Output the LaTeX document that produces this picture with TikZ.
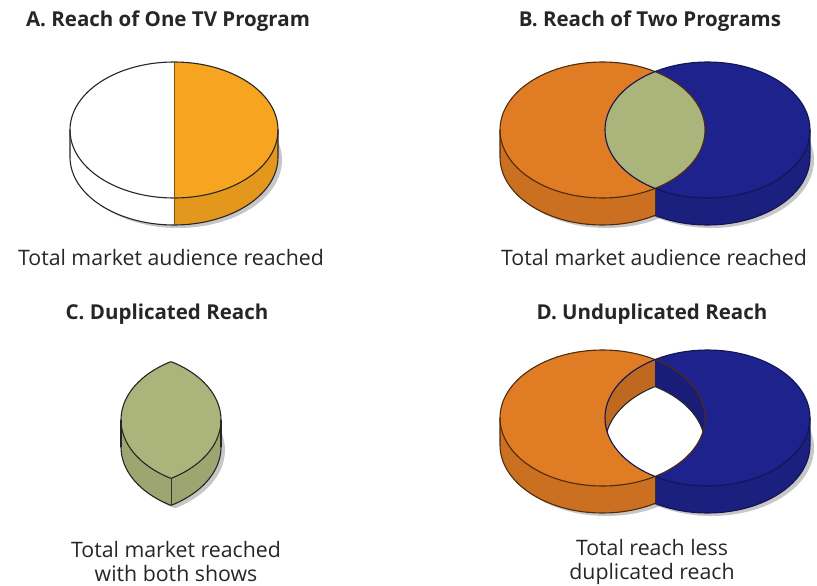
\documentclass[tikz,border=0pt]{standalone}
\usepackage{fontspec}
\setmainfont{Open Sans}

\definecolor{pieorange}{RGB}{247,165,32}
\definecolor{vennorange}{RGB}{224,124,36}
\definecolor{vennblue}{RGB}{30,34,140}
\definecolor{lensgreen}{RGB}{171,180,122}

\begin{document}
\begin{tikzpicture}[x=1pt, y=1pt]
    \useasboundingbox (0,0) rectangle (817,-586);

    % centres of the discs (pixel grid, y pointing down)
    \coordinate (A)  at (174,-130);
    \coordinate (B1) at (602.5,-130);
    \coordinate (B2) at (707.5,-130);
    \coordinate (C1) at (118.5,-420);
    \coordinate (C2) at (223.5,-420);
    \coordinate (D1) at (602.5,-418);
    \coordinate (D2) at (707.5,-418);

    % sizes
    \def\rx{102.5} \def\ry{68} \def\thk{27}

    \tikzset{
        outline/.style={draw=black!85, line width=1.1pt},
        seam/.style={draw=black!80, line width=1pt},
        shade/.style={fill=black, opacity=0.22},
        title/.style={font=\bfseries\fontsize{20.5}{24}\selectfont, text=black!85},
        caption/.style={font=\fontsize{21.3}{24}\selectfont, text=black!85, align=center, inner sep=0.5pt}
    }

    % ---------------- A. one programme ----------------
    \fill[shade] (A) ++(4,-\thk-3) ellipse[x radius=104, y radius=\ry];
    \fill[white] (A) ++(0,-\thk) ellipse[x radius=104, y radius=\ry];
    \fill[white] (A) ++(-104,0) rectangle ++(208,-\thk);
    \fill[white] (A) ellipse[x radius=104, y radius=\ry];
    \begin{scope}
        \clip (A) ++(0,80) rectangle ++(120,-200);
        \fill[pieorange!92!black] (A) ++(0,-\thk) ellipse[x radius=104, y radius=\ry];
        \fill[pieorange!92!black] (A) ++(-104,0) rectangle ++(208,-\thk);
        \fill[pieorange] (A) ellipse[x radius=104, y radius=\ry];
    \end{scope}
    \draw[outline] (A) ellipse[x radius=104, y radius=\ry];
    \draw[outline] (A) ++(-104,0) -- ++(0,-\thk)
        arc[start angle=180, end angle=360, x radius=104, y radius=\ry] -- ++(0,\thk);
    \draw[seam, draw=pieorange!50!black] (A) ++(0,\ry) -- ++(0,-2*\ry-\thk);

    % ---------------- B. two programmes ----------------
    \fill[shade] (B1) ++(4,-\thk-3) ellipse[x radius=\rx, y radius=\ry];
    \fill[shade] (B2) ++(4,-\thk-3) ellipse[x radius=\rx, y radius=\ry];
    \begin{scope}
        \clip (0,0) rectangle (655,-300);
        \fill[vennorange!90!black] (B1) ++(0,-\thk) ellipse[x radius=\rx, y radius=\ry];
        \fill[vennorange!90!black] (B1) ++(-\rx,0) rectangle ++(2*\rx,-\thk);
    \end{scope}
    \begin{scope}
        \clip (655,0) rectangle (817,-300);
        \fill[vennblue!90!black] (B2) ++(0,-\thk) ellipse[x radius=\rx, y radius=\ry];
        \fill[vennblue!90!black] (B2) ++(-\rx,0) rectangle ++(2*\rx,-\thk);
    \end{scope}
    \fill[vennorange] (B1) ellipse[x radius=\rx, y radius=\ry];
    \fill[vennblue] (B2) ellipse[x radius=\rx, y radius=\ry];
    \begin{scope}
        \clip (B1) ellipse[x radius=\rx, y radius=\ry];
        \fill[lensgreen] (B2) ellipse[x radius=\rx, y radius=\ry];
    \end{scope}
    \draw[outline, draw=vennorange!35!black] (B1) ellipse[x radius=\rx, y radius=\ry];
    \draw[outline, draw=vennblue!60!black] (B2) ellipse[x radius=\rx, y radius=\ry];
    \begin{scope}
        \clip (0,0) rectangle (655,-300);
        \draw[outline, draw=vennorange!35!black] (B1) ++(-\rx,0) -- ++(0,-\thk)
            arc[start angle=180, end angle=360, x radius=\rx, y radius=\ry];
    \end{scope}
    \begin{scope}
        \clip (655,0) rectangle (817,-300);
        \draw[outline, draw=vennblue!60!black] (B2) ++(\rx,0) -- ++(0,-\thk)
            arc[start angle=0, end angle=-180, x radius=\rx, y radius=\ry];
    \end{scope}
    \draw[seam] (655,-188.4) -- ++(0,-\thk);

    % ---------------- C. duplicated reach ----------------
    \begin{scope}
        \clip (C1) ++(4,-\thk-3) ellipse[x radius=\rx, y radius=\ry];
        \fill[shade] (C2) ++(4,-\thk-3) ellipse[x radius=\rx, y radius=\ry];
    \end{scope}
    \begin{scope}
        \clip (C1) ++(0,-\thk) ellipse[x radius=\rx, y radius=\ry];
        \fill[lensgreen!92!black] (C2) ++(0,-\thk) ellipse[x radius=\rx, y radius=\ry];
    \end{scope}
    \fill[lensgreen!92!black] (121,-420) rectangle (221,-447);
    \begin{scope}
        \clip (C1) ellipse[x radius=\rx, y radius=\ry];
        \fill[lensgreen] (C2) ellipse[x radius=\rx, y radius=\ry];
    \end{scope}
    \begin{scope}
        \clip (C1) ellipse[x radius=\rx, y radius=\ry];
        \draw[outline] (C2) ellipse[x radius=\rx, y radius=\ry];
    \end{scope}
    \begin{scope}
        \clip (C2) ellipse[x radius=\rx, y radius=\ry];
        \draw[outline] (C1) ellipse[x radius=\rx, y radius=\ry];
    \end{scope}
    \begin{scope}
        \clip (0,-447) rectangle (817,-586);
        \begin{scope}
            \clip (C1) ++(0,-\thk) ellipse[x radius=\rx, y radius=\ry];
            \draw[outline] (C2) ++(0,-\thk) ellipse[x radius=\rx, y radius=\ry];
        \end{scope}
        \begin{scope}
            \clip (C2) ++(0,-\thk) ellipse[x radius=\rx, y radius=\ry];
            \draw[outline] (C1) ++(0,-\thk) ellipse[x radius=\rx, y radius=\ry];
        \end{scope}
    \end{scope}
    \draw[outline] (121,-420) -- ++(0,-\thk);
    \draw[outline] (221,-420) -- ++(0,-\thk);
    \draw[seam] (171,-478.4) -- ++(0,-\thk);

    % ---------------- D. unduplicated reach ----------------
    \fill[shade] (D1) ++(4,-\thk-3) ellipse[x radius=\rx, y radius=\ry];
    \fill[shade] (D2) ++(4,-\thk-3) ellipse[x radius=\rx, y radius=\ry];
    \begin{scope}
        \clip (0,-300) rectangle (655,-586);
        \fill[vennorange!90!black] (D1) ++(0,-\thk) ellipse[x radius=\rx, y radius=\ry];
        \fill[vennorange!90!black] (D1) ++(-\rx,0) rectangle ++(2*\rx,-\thk);
    \end{scope}
    \begin{scope}
        \clip (655,-300) rectangle (817,-586);
        \fill[vennblue!90!black] (D2) ++(0,-\thk) ellipse[x radius=\rx, y radius=\ry];
        \fill[vennblue!90!black] (D2) ++(-\rx,0) rectangle ++(2*\rx,-\thk);
    \end{scope}
    \fill[vennorange] (D1) ellipse[x radius=\rx, y radius=\ry];
    \fill[vennblue] (D2) ellipse[x radius=\rx, y radius=\ry];
    % the hole, with the far inner walls
    \begin{scope}
        \clip (D1) ellipse[x radius=\rx, y radius=\ry];
        \clip (D2) ellipse[x radius=\rx, y radius=\ry];
        \fill[vennorange!85!black] (540,-300) rectangle (655,-500);
        \fill[vennblue!85!black] (655,-300) rectangle (770,-500);
        \begin{scope}
            \clip (D1) ++(0,-\thk) ellipse[x radius=\rx, y radius=\ry];
            \fill[white] (D2) ++(0,-\thk) ellipse[x radius=\rx, y radius=\ry];
            \draw[outline] (D2) ++(0,-\thk) ellipse[x radius=\rx, y radius=\ry];
        \end{scope}
        \begin{scope}
            \clip (D2) ++(0,-\thk) ellipse[x radius=\rx, y radius=\ry];
            \draw[outline] (D1) ++(0,-\thk) ellipse[x radius=\rx, y radius=\ry];
        \end{scope}
    \end{scope}
    \draw[outline, draw=vennorange!35!black] (D1) ellipse[x radius=\rx, y radius=\ry];
    \draw[outline, draw=vennblue!60!black] (D2) ellipse[x radius=\rx, y radius=\ry];
    \begin{scope}
        \clip (0,-300) rectangle (655,-586);
        \draw[outline, draw=vennorange!35!black] (D1) ++(-\rx,0) -- ++(0,-\thk)
            arc[start angle=180, end angle=360, x radius=\rx, y radius=\ry];
    \end{scope}
    \begin{scope}
        \clip (655,-300) rectangle (817,-586);
        \draw[outline, draw=vennblue!60!black] (D2) ++(\rx,0) -- ++(0,-\thk)
            arc[start angle=0, end angle=-180, x radius=\rx, y radius=\ry];
    \end{scope}
    \draw[seam] (655,-476.4) -- ++(0,-\thk);

    % titles and captions
    \node[title] (titleA) at (168,-21) {A. Reach of One TV Program};
    \node[title] (titleB) at (650,-21) {B. Reach of Two Programs};
    \node[title] (titleC) at (167,-314) {C. Duplicated Reach};
    \node[title] (titleD) at (652,-314) {D. Unduplicated Reach};
    \node[caption] (capA) at (171,-258) {Total market audience reached};
    \node[caption] (capB) at (654,-258) {Total market audience reached};
    \node[caption] (capC) at (176,-562) {Total market reached\\with both shows};
    \node[caption] (capD) at (652,-562) {Total reach less\\duplicated reach};
\end{tikzpicture}
\end{document}
